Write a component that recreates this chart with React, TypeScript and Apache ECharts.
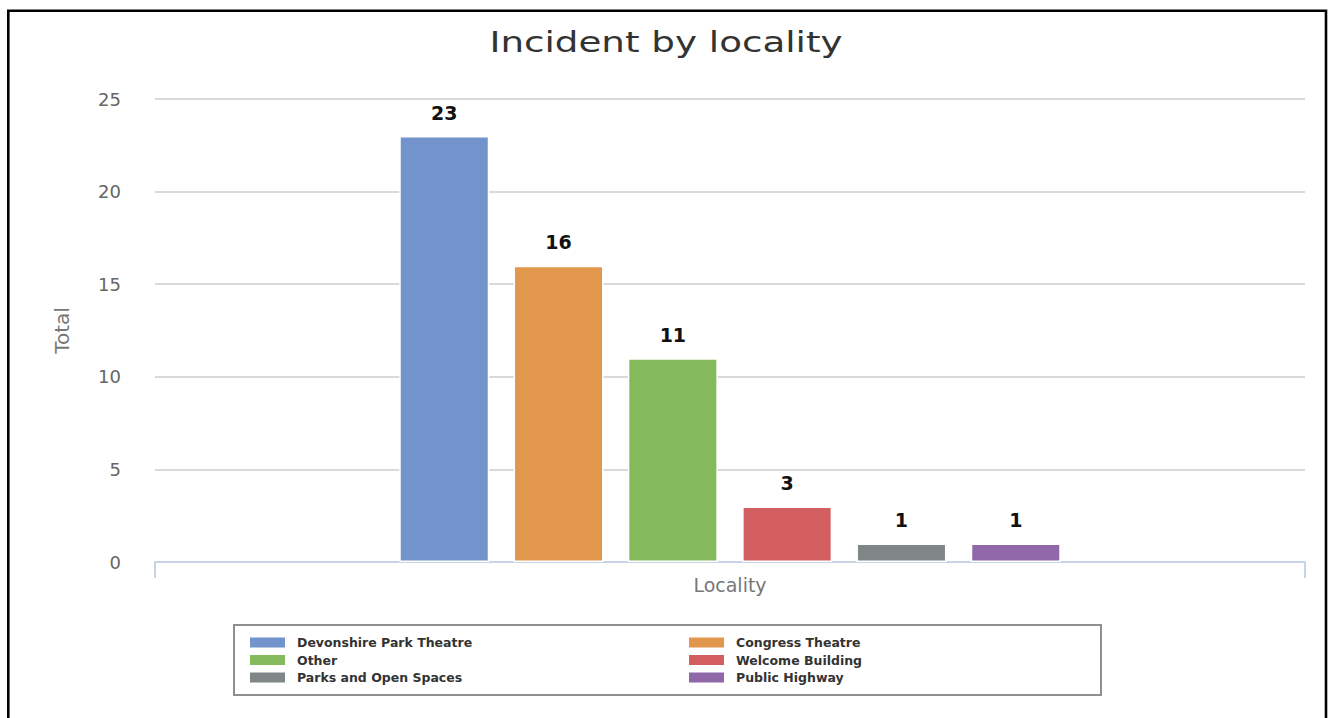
import React, { useEffect, useRef } from "react";
import * as echarts from "echarts";

const TITLE = "Incident by locality";
const CATEGORY = ["Locality"];
const LOCALITIES = [
  "Devonshire Park Theatre",
  "Congress Theatre",
  "Other",
  "Welcome Building",
  "Parks and Open Spaces",
  "Public Highway",
];
const TOTALS = [23, 16, 11, 3, 1, 1];
const COLORS = ["#7293CB", "#E1974C", "#84BA5B", "#D35E60", "#808585", "#9067A7"];
const LEGEND_LEFT = [LOCALITIES[0], LOCALITIES[2], LOCALITIES[4]];
const LEGEND_RIGHT = [LOCALITIES[1], LOCALITIES[3], LOCALITIES[5]];
const Y_MIN = 0;
const Y_MAX = 25;
const Y_STEP = 5;

const FONT = "DejaVu Sans";

export default function App() {
  const ref = useRef<HTMLDivElement>(null);
  useEffect(() => {
    if (!ref.current) return;
    const chart = echarts.init(ref.current, undefined, { renderer: "svg" });
    const legendCommon = {
      orient: "vertical",
      icon: "rect",
      itemWidth: 35,
      itemHeight: 10,
      itemGap: 4.5,
      padding: 0,
      selectedMode: false,
      itemStyle: { borderWidth: 0 },
      textStyle: {
        fontFamily: FONT,
        fontSize: 12.5,
        fontWeight: "bold",
        color: "#333",
        lineHeight: 10,
        padding: [0, 0, 0, 7],
      },
    };
    chart.setOption({
      animation: false,
      backgroundColor: "#fff",
      textStyle: { fontFamily: FONT },
      grid: { left: 155, right: 25, top: 99, bottom: 156 },
      graphic: [
        {
          type: "rect",
          shape: { x: 8.3, y: 10.7, width: 1317.7, height: 800 },
          style: { fill: "none", stroke: "#000", lineWidth: 2.6 },
          silent: true,
        },
        {
          type: "rect",
          shape: { x: 234, y: 625, width: 867, height: 70 },
          style: { fill: "none", stroke: "#8f8f8f", lineWidth: 2 },
          silent: true,
        },
        {
          type: "text",
          x: 666,
          y: 42,
          scaleX: 1.33,
          style: {
            text: TITLE,
            fontFamily: FONT,
            fontSize: 28,
            fill: "#333",
            align: "center",
            verticalAlign: "middle",
          },
        },
      ],
      legend: [
        { ...legendCommon, left: 250, top: 636, data: LEGEND_LEFT },
        { ...legendCommon, left: 689, top: 636, data: LEGEND_RIGHT },
      ],
      xAxis: {
        type: "category",
        data: CATEGORY,
        name: "Locality",
        nameLocation: "middle",
        nameGap: 13,
        nameTextStyle: { fontFamily: FONT, fontSize: 19, color: "#777" },
        axisLine: { lineStyle: { color: "#c6d4e6", width: 2 } },
        axisTick: { show: true, length: 16, lineStyle: { color: "#c6d4e6", width: 2 } },
        axisLabel: { show: false },
      },
      yAxis: {
        type: "value",
        min: Y_MIN,
        max: Y_MAX,
        interval: Y_STEP,
        name: "Total",
        nameLocation: "middle",
        nameRotate: 90,
        nameGap: 83,
        nameTextStyle: { fontFamily: FONT, fontSize: 20, color: "#777" },
        axisLine: { show: false },
        axisTick: { show: false },
        axisLabel: { fontFamily: FONT, fontSize: 18, color: "#666", margin: 34 },
        splitLine: { lineStyle: { color: "#d9d9d9", width: 2 } },
      },
      series: LOCALITIES.map((name, i) => ({
        type: "bar",
        name,
        data: [TOTALS[i]],
        barWidth: 90,
        barGap: "27%",
        itemStyle: { color: COLORS[i], borderColor: "#fff", borderWidth: 1.5 },
        label: {
          show: true,
          position: "top",
          distance: 14,
          fontFamily: FONT,
          fontSize: 19,
          fontWeight: "bold",
          color: "#111",
        },
      })),
    });
    return () => chart.dispose();
  }, []);
  return (
    <div
      ref={ref}
      style={{ position: "absolute", left: 0, top: 0, width: 1330, height: 718 }}
    />
  );
}
